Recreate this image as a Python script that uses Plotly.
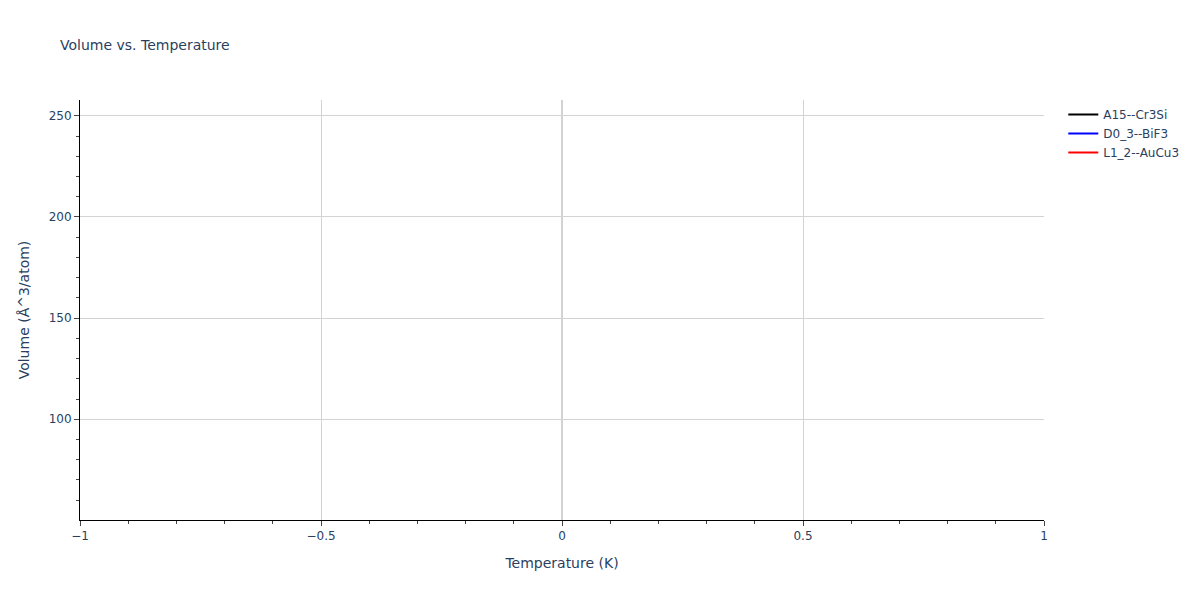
import plotly.graph_objects as go

# the reference keeps no visible temperature/volume points, only the legend entries
structures = ['A15--Cr3Si', 'D0_3--BiF3', 'L1_2--AuCu3']
colors = ['black', 'blue', 'red']
temperature = [[None], [None], [None]]
volume = [[None], [None], [None]]

fig = go.Figure()
for name, color, t, v in zip(structures, colors, temperature, volume):
    fig.add_trace(go.Scatter(x=t, y=v, mode='lines', name=name,
                             line=dict(color=color)))

axis_style = dict(
    showline=True, linecolor='black', ticks='outside',
    gridcolor='lightgrey', zerolinecolor='lightgrey', zerolinewidth=2,
    minor=dict(ticks='outside', showgrid=False),
)
# page body has an 8px margin, so the figure is a bit smaller and the
# margins are trimmed to keep the plot area where the reference has it
fig.update_layout(
    template='plotly_white',
    width=1192, height=592,
    margin=dict(l=72, r=156, t=92, b=80),
    font=dict(family='DejaVu Sans', size=12),
    title=dict(text='Volume vs. Temperature', font=dict(size=14),
               x=52 / 1192, y=0.9375, yanchor='middle'),
    xaxis=dict(title='Temperature (K)', range=[-1, 1], **axis_style),
    yaxis=dict(title='Volume (Å^3/atom)', range=[50.2, 257.8], **axis_style),
    showlegend=True,
)
fig.write_html("out.html")
